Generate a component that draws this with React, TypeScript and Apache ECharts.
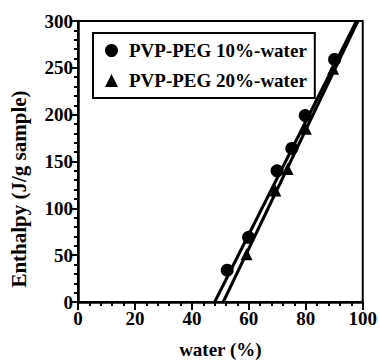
import React, { useEffect, useRef } from "react";
import * as echarts from "echarts";

const seriesNames = ["PVP-PEG 10%-water", "PVP-PEG 20%-water"];
const peg10: [number, number][] = [
  [52.4, 34],
  [59.9, 69],
  [69.9, 140],
  [75.1, 164],
  [79.8, 199],
  [90.1, 259],
];
const peg20: [number, number][] = [
  [59.2, 51],
  [69.3, 119],
  [73.6, 142],
  [80.0, 185],
  [89.6, 249],
];
const fit10: [number, number][] = [
  [48.0, 0],
  [97.8, 300],
];
const fit20: [number, number][] = [
  [51.0, 0],
  [98.3, 300],
];
const xTicks = [0, 20, 40, 60, 80, 100];
const yTicks = [0, 50, 100, 150, 200, 250, 300];

const FONT = "'Liberation Serif', 'DejaVu Serif', serif";

export default function App() {
  const ref = useRef<HTMLDivElement>(null);
  useEffect(() => {
    if (!ref.current) return;
    const chart = echarts.init(ref.current, null, { renderer: "svg" });
    const axisCommon = {
      axisLine: { show: true, lineStyle: { color: "#000", width: 2.5 } },
      axisTick: { show: true, inside: false, length: 8, lineStyle: { color: "#000", width: 2 } },
      minorTick: { show: true, splitNumber: 5, length: 4, lineStyle: { color: "#000", width: 2 } },
      splitLine: { show: false },
      minorSplitLine: { show: false },
      axisLabel: { color: "#000", fontFamily: FONT, fontWeight: "bold" as const, fontSize: 19 },
    };
    chart.setOption({
      animation: false,
      backgroundColor: "#fff",
      grid: {
        left: 78,
        right: 13,
        top: 21,
        bottom: 54,
        show: true,
        borderColor: "#000",
        borderWidth: 2,
        containLabel: false,
      },
      legend: {
        orient: "vertical",
        left: 93,
        top: 33,
        data: [
          { name: seriesNames[0], icon: "circle" },
          { name: seriesNames[1], icon: "triangle" },
        ],
        itemWidth: 13,
        itemHeight: 13,
        itemGap: 11,
        padding: [8, 8, 8, 12],
        borderColor: "#000",
        borderWidth: 2,
        textStyle: { color: "#000", fontFamily: FONT, fontWeight: "bold", fontSize: 19, padding: [0, 0, 0, 6] },
      },
      xAxis: {
        type: "value",
        min: 0,
        max: 100,
        interval: 20,
        ...axisCommon,
        axisLabel: {
          ...axisCommon.axisLabel,
          margin: 7,
          formatter: (v: number) => (xTicks.includes(v) ? String(v) : ""),
        },
        name: "water (%)",
        nameLocation: "middle",
        nameGap: 38,
        nameTextStyle: { color: "#000", fontFamily: FONT, fontWeight: "bold", fontSize: 19 },
      },
      yAxis: {
        type: "value",
        min: 0,
        max: 300,
        interval: 50,
        ...axisCommon,
        axisLabel: {
          ...axisCommon.axisLabel,
          margin: 5,
          formatter: (v: number) => (yTicks.includes(v) ? String(v) : ""),
        },
      },
      graphic: [
        {
          type: "text",
          x: 19,
          y: 189,
          rotation: Math.PI / 2,
          style: {
            text: "Enthalpy (J/g sample)",
            fill: "#000",
            font: `bold 21px ${FONT}`,
            textAlign: "center",
            textVerticalAlign: "middle",
          },
        },
      ],
      series: [
        {
          type: "line",
          data: fit10,
          symbol: "none",
          lineStyle: { color: "#000", width: 3 },
          silent: true,
          z: 2,
        },
        {
          type: "line",
          data: fit20,
          symbol: "none",
          lineStyle: { color: "#000", width: 3 },
          silent: true,
          z: 2,
        },
        {
          name: seriesNames[0],
          type: "scatter",
          data: peg10,
          symbol: "circle",
          symbolSize: 13,
          itemStyle: { color: "#000", opacity: 1 },
          z: 3,
        },
        {
          name: seriesNames[1],
          type: "scatter",
          data: peg20,
          symbol: "triangle",
          symbolSize: 12,
          itemStyle: { color: "#000", opacity: 1 },
          z: 3,
        },
      ],
    });
    return () => chart.dispose();
  }, []);
  return (
    <div
      ref={ref}
      style={{ position: "fixed", left: 0, top: 0, width: 380, height: 364, background: "#fff" }}
    />
  );
}
